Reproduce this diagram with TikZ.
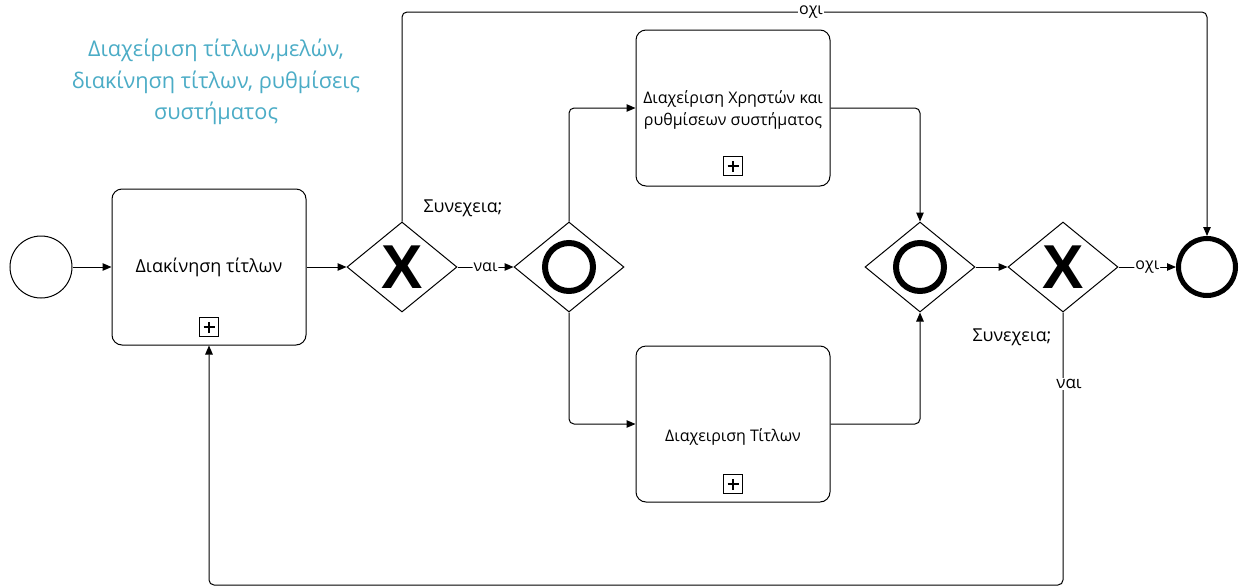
\documentclass[tikz,border=0pt]{standalone}
\usepackage{fontspec}
\setmainfont{Open Sans}
\newfontfamily\xfont{Liberation Sans}
\usetikzlibrary{arrows.meta,shapes.geometric}
\definecolor{titleblue}{RGB}{75,172,198}
\tikzset{
  flow/.style={line width=1pt, -{Triangle[length=9pt,width=7.5pt]}, rounded corners=5pt},
  task/.style={draw, line width=1pt, rounded corners=10pt, minimum width=194pt, minimum height=156pt, inner sep=0pt},
  tasktext/.style={font=\fontsize{16}{21.5}\selectfont, align=center, inner sep=0pt},
  plusbox/.style={draw, line width=1pt, minimum size=19pt, inner sep=0pt},
  gate/.style={draw, diamond, line width=1pt, minimum width=110pt, minimum height=90pt, inner sep=0pt},
  xmark/.style={font=\xfont\bfseries\fontsize{62}{62}\selectfont, inner sep=0pt},
  omark/.style={circle, draw, line width=6pt, minimum size=48pt, inner sep=0pt},
  lbl/.style={fill=white, inner sep=1pt, font=\fontsize{16}{18}\selectfont},
  cond/.style={font=\fontsize{17.8}{20}\selectfont, inner sep=0pt},
}
\newcommand{\plusmark}[2]{%
  \node[plusbox] (#1) at (#2) {};
  \draw[line width=2.8pt] ([xshift=-5.5pt]#1.center) -- ([xshift=5.5pt]#1.center);
  \draw[line width=2.8pt] ([yshift=-5.5pt]#1.center) -- ([yshift=5.5pt]#1.center);
}
\begin{document}
\begin{tikzpicture}[x=1pt,y=-1pt]
\useasboundingbox (0,0) rectangle (1240,587);

% title
\node[font=\fontsize{21.7}{31.5}\selectfont, text=titleblue, align=center] (title) at (216,82)
  {Διαχείριση τίτλων,μελών,\\διακίνηση τίτλων, ρυθμίσεις\\συστήματος};

% start / end
\node[circle, draw, line width=1pt, minimum size=62pt, inner sep=0pt] (start) at (41,267) {};
\node[circle, draw, line width=5pt, minimum size=57pt, inner sep=0pt] (endc) at (1207,267) {};

% tasks
\node[task] (t1) at (209,267) {};
\node[tasktext, font=\fontsize{18}{22}\selectfont] (t1txt) at (209,267) {Διακίνηση τίτλων};
\plusmark{t1p}{209,327}

\node[task] (t2) at (733,108) {};
\node[tasktext] (t2txt) at (733,110) {Διαχείριση Χρηστών και\\ρυθμίσεων συστήματος};
\plusmark{t2p}{733,166}

\node[task] (t3) at (733,424) {};
\node[tasktext] (t3txt) at (733,437) {Διαχειριση Τίτλων};
\plusmark{t3p}{733,484}

% gateways
\node[gate] (x1) at (402,267) {};
\node[xmark] (x1m) at (402,267) {X};
\node[gate] (o1) at (569,267) {};
\node[omark] (o1m) at (569,267) {};
\node[gate] (o2) at (920,267) {};
\node[omark] (o2m) at (920,267) {};
\node[gate] (x2) at (1063,267) {};
\node[xmark] (x2m) at (1063,267) {X};

% condition labels
\node[cond] (c1) at (463,208) {Συνεχεια;};
\node[cond] (c2) at (1012,337) {Συνεχεια;};

% coordinates for routes
\coordinate (topL) at (402,12);
\coordinate (topR) at (1207,12);
\coordinate (botR) at (1063,585);
\coordinate (botL) at (209,585);

% connectors
\draw[flow] (start) -- (t1);
\draw[flow] (t1) -- (x1);
\draw[flow] (x1) -- node[lbl] (l1) {ναι} (o1);
\draw[flow] (o1.north) |- (t2.west);
\draw[flow] (o1.south) |- (t3.west);
\draw[flow] (t2.east) -| (o2.north);
\draw[flow] (t3.east) -| (o2.south);
\draw[flow] (o2) -- (x2);
\draw[flow] (x2) -- node[lbl] (l2) {οχι} (endc);
\draw[flow] (x1.north) -- (topL) -- (topR) -- (endc.north);
\node[lbl] (l3) at (811,12) {οχι};
\draw[flow] (x2.south) -- (botR) -- (botL) -- (t1.south);
\node[lbl, font=\fontsize{17}{19}\selectfont] (l4) at (1069,384) {ναι};
\end{tikzpicture}
\end{document}
